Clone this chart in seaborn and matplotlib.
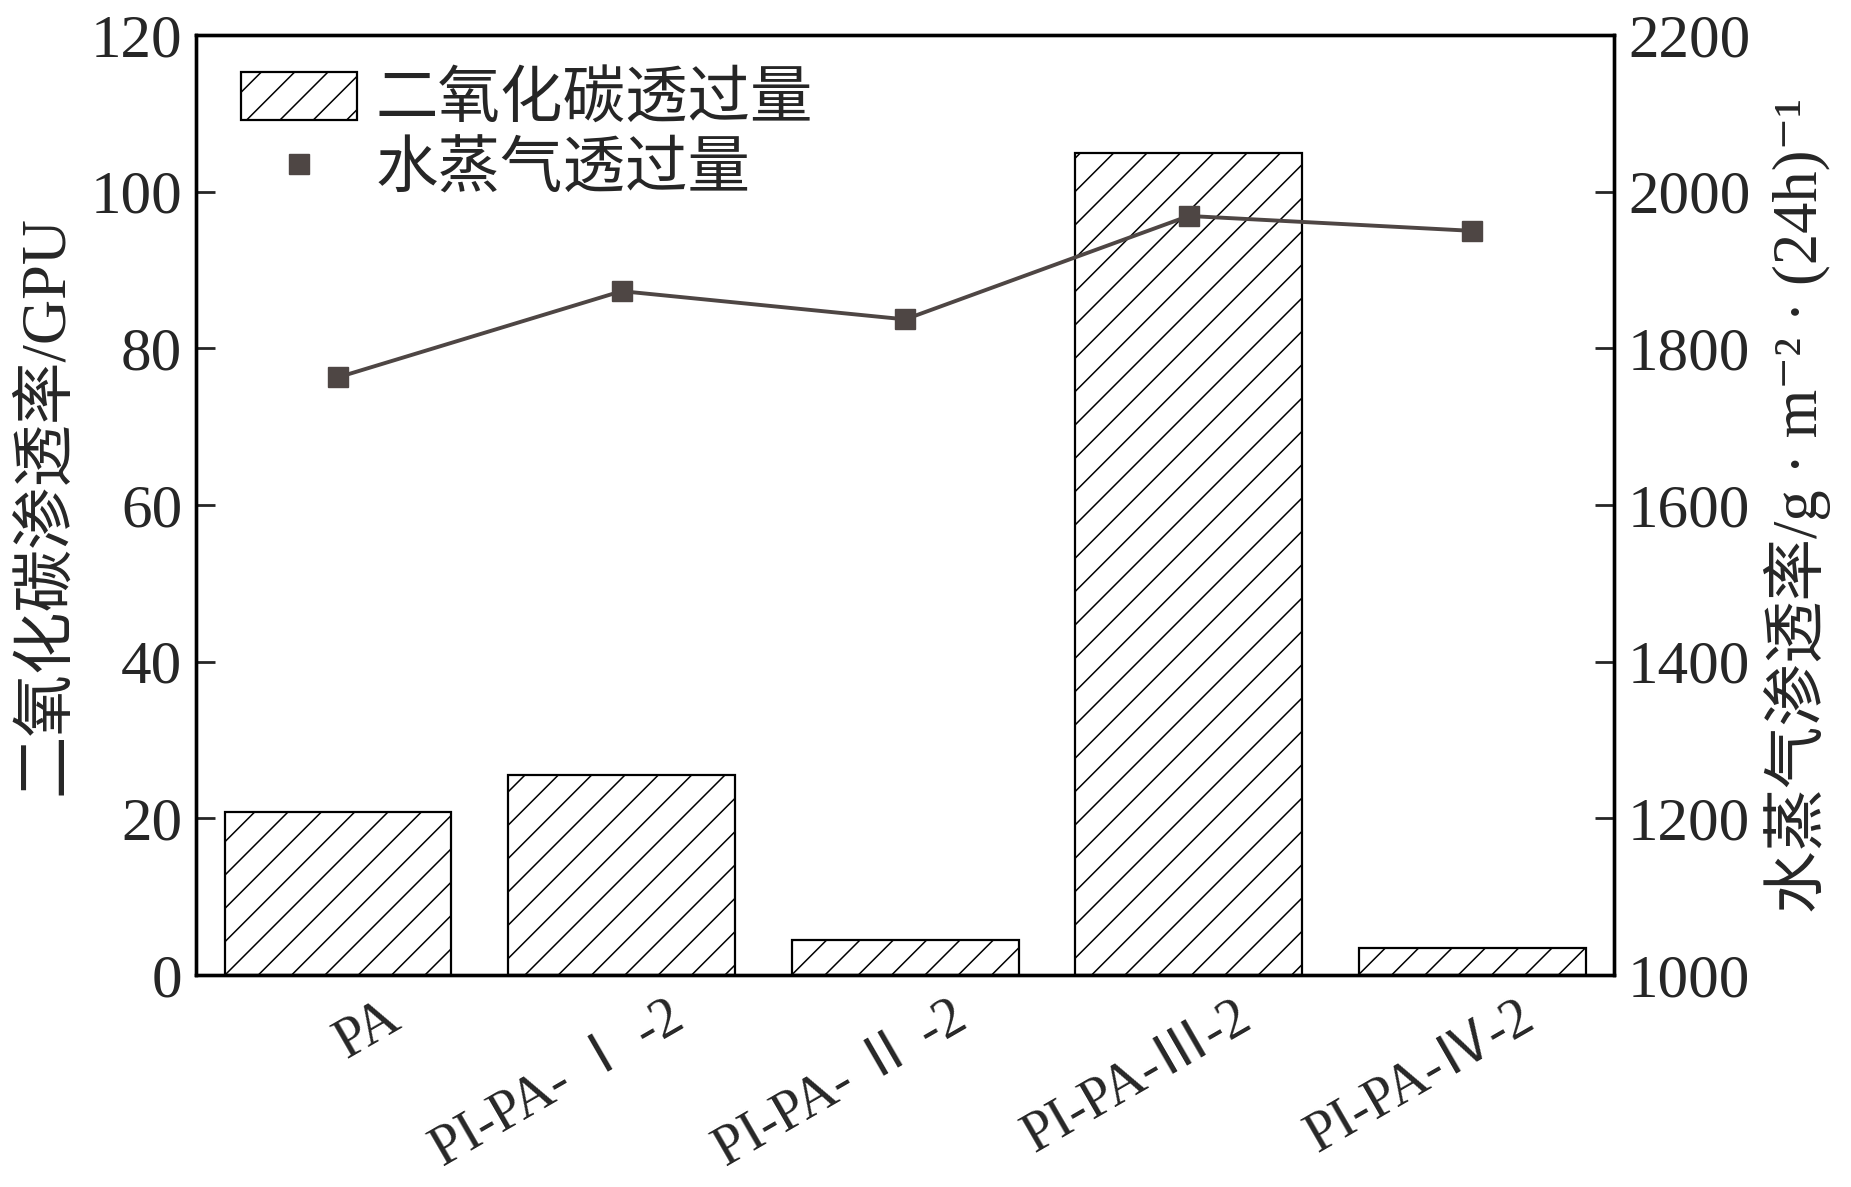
import numpy as np
import pandas as pd
import matplotlib
matplotlib.use('Agg')
import matplotlib.pyplot as plt
import matplotlib.transforms as mtransforms
from matplotlib.patches import Patch
from matplotlib.lines import Line2D
import seaborn as sns

# Daten
samples = ['PA', 'PI-PA- Ⅰ -2', 'PI-PA- Ⅱ -2', 'PI-PA-Ⅲ-2', 'PI-PA-Ⅳ-2']
co2_flux = [20.8, 25.5, 4.5, 105.0, 3.4]
h2o_flux = [1763, 1873, 1837, 1969, 1950]

sns.set_theme(style='ticks')
plt.rcParams['font.family'] = ['Liberation Serif', 'Noto Sans CJK SC', 'DejaVu Serif']
plt.rcParams['hatch.linewidth'] = 1.1
plt.rcParams['axes.unicode_minus'] = False

df = pd.DataFrame({'sample': samples, 'co2': co2_flux})

fig, ax = plt.subplots(figsize=(18.51, 11.87), dpi=100)
fig.subplots_adjust(left=0.106, right=0.872, top=0.9705, bottom=0.1786)

sns.barplot(data=df, x='sample', y='co2', color='white', edgecolor='black',
            linewidth=1.6, width=0.8, ax=ax, saturation=1)
for p in ax.patches:
    p.set_hatch('/')
    p.set_facecolor('white')
    p.set_edgecolor('black')

ax.set_xlim(-0.5, 4.5)
ax.set_ylim(0, 120)
ax.set_yticks(np.arange(0, 121, 20))
ax.set_xlabel('')
ax.set_ylabel('二氧化碳渗透率/GPU', fontsize=45, labelpad=10)

ax2 = ax.twinx()
line_col = '#4e4644'
ax2.plot(np.arange(len(samples)), h2o_flux, color=line_col, linewidth=2.8,
         marker='s', markersize=14, markerfacecolor=line_col, markeredgecolor=line_col)
ax2.set_ylim(1000, 2200)
ax2.set_yticks(np.arange(1000, 2201, 200))
ax2.set_ylabel('水蒸气渗透率/g · m⁻² · (24h)⁻¹', fontsize=45, labelpad=10)

for a in (ax, ax2):
    for s in a.spines.values():
        s.set_visible(True)
        s.set_linewidth(2.4)
        s.set_color('black')
ax.tick_params(axis='y', direction='in', length=14, width=2, labelsize=44, pad=10)
ax.tick_params(axis='x', direction='in', length=14, width=2, labelsize=40, pad=12)
ax2.tick_params(axis='y', direction='in', length=14, width=2, labelsize=44, pad=10)

offset = mtransforms.ScaledTranslation(0.45, 0, fig.dpi_scale_trans)
for lab in ax.get_xticklabels():
    lab.set_rotation(30)
    lab.set_ha('right')
    lab.set_rotation_mode('anchor')
    lab.set_transform(lab.get_transform() + offset)

handles = [Patch(facecolor='white', edgecolor='black', hatch='/', linewidth=1.6),
           Line2D([], [], linestyle='none', marker='s', markersize=14,
                  color=line_col)]
ax.legend(handles, ['二氧化碳透过量', '水蒸气透过量'], loc='upper left',
          bbox_to_anchor=(-0.008, 1.02), frameon=False, fontsize=45,
          handlelength=1.85, handleheight=0.8, handletextpad=0.3, labelspacing=0.15)

fig.savefig('out.png', dpi=100)
